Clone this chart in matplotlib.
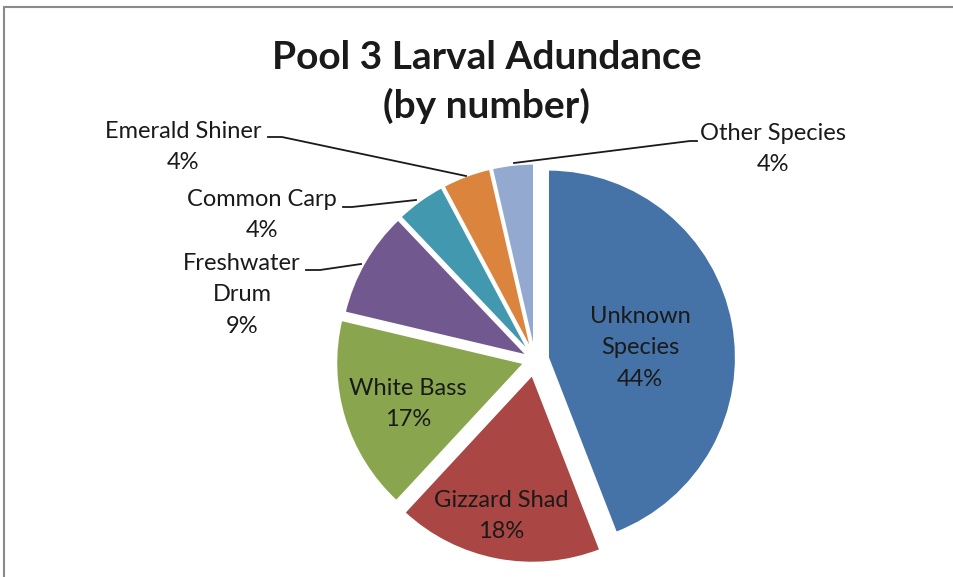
import matplotlib
matplotlib.use("Agg")
import matplotlib.pyplot as plt
from matplotlib.patches import Rectangle

species = ["Unknown\nSpecies", "Gizzard Shad", "White Bass", "Freshwater\nDrum",
           "Common Carp", "Emerald Shiner", "Other Species"]
values = [44.1, 17.8, 16.8, 9.2, 4.3, 4.2, 3.6]
colors = ["#4572A7", "#AA4643", "#89A54E", "#71588F", "#4198AF", "#DB843D", "#93A9CF"]
explode = [0.07, 0.08, 0.06, 0.045, 0.045, 0.045, 0.045]
title = "Pool 3 Larval Adundance\n(by number)"

W, H = 954, 577
R = 188.0
CX, CY = 535.0, 360.0

def px(x, y):
    return ((x - CX) / R, (CY - y) / R)

plt.rcParams['font.family'] = ['Lato', 'DejaVu Sans']
fig = plt.figure(figsize=(W / 100, H / 100), dpi=100)
fig.patch.set_facecolor("white")
ax = fig.add_axes([0, 0, 1, 1])

fig.patches.append(Rectangle((4 / W, -0.1), 1.2, (H - 7) / H + 0.1,
                             transform=fig.transFigure, fill=False,
                             edgecolor="#8a8a8a", linewidth=1.5))

wedges, _ = ax.pie(values, colors=colors, explode=explode, startangle=90,
                   counterclock=False, radius=1.0,
                   wedgeprops=dict(edgecolor="white", linewidth=1.5))
ax.set_aspect("auto")
ax.set_xlim(-CX / R, (W - CX) / R)
ax.set_ylim(-(H - CY) / R, CY / R)
ax.axis("off")

total = sum(values)
pct = [f"{v / total * 100:.0f}%" for v in values]
tc = "#1a1a1a"
fs = 17
ls = 1.63

# inside labels
inside_pos = {0: (640, 348), 1: (501, 516), 2: (408, 404)}
for i, (x, y) in inside_pos.items():
    ax.text(*px(x, y), f"{species[i]}\n{pct[i]}", ha="center", va="center",
            fontsize=fs, color=tc, linespacing=ls)

# outside labels with leader lines
outside = {
    3: ((242, 295), [(306, 270), (320, 270), (361, 264)]),
    4: ((262, 215), [(343, 207), (352, 207), (416, 200)]),
    5: ((183, 147), [(268, 137), (282, 137), (466, 176)]),
    6: ((773, 149), [(697, 141), (690, 141), (514, 163)]),
}
for i, ((x, y), pts) in outside.items():
    ax.text(*px(x, y), f"{species[i]}\n{pct[i]}", ha="center", va="center",
            fontsize=fs, color=tc, linespacing=ls)
    xs, ys = zip(*[px(a, b) for a, b in pts])
    ax.plot(xs, ys, color="#1a1a1a", linewidth=1.3)

ax.text(*px(487, 82), title, ha="center", va="center", fontsize=28,
        fontweight="bold", color=tc, linespacing=1.41)

fig.savefig("out.png", dpi=100, facecolor="white")
